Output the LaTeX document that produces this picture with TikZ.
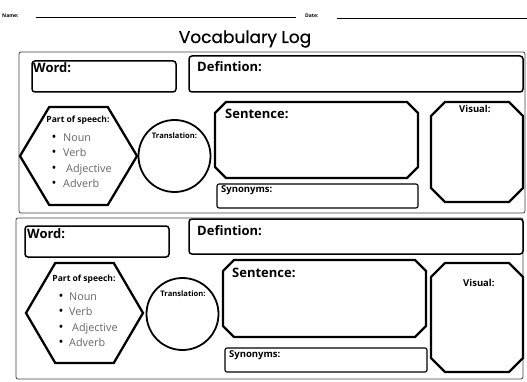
\documentclass[tikz,border=0pt]{standalone}
\usepackage{fontspec}
\setmainfont{Open Sans}
\newfontfamily\titlefont[FakeBold=0.6]{Poppins}
\def\octpath#1#2#3#4#5{(#1+#5,#2) -- (#3-#5,#2) -- (#3,#2+#5) -- (#3,#4-#5) -- (#3-#5,#4) -- (#1+#5,#4) -- (#1,#4-#5) -- (#1,#2+#5) -- cycle}
\def\hexpath#1#2#3#4{(#1-#3,#2) -- (#1-#3/2,#2-#4) -- (#1+#3/2,#2-#4) -- (#1+#3,#2) -- (#1+#3/2,#2+#4) -- (#1-#3/2,#2+#4) -- cycle}
\begin{document}
\begin{tikzpicture}[x=1pt,y=-1pt,
  frame/.style={draw=black!75, line width=0.8pt, rounded corners=2pt},
  boxa/.style={draw, line width=1.5pt, rounded corners=3pt},
  boxb/.style={draw, line width=1.1pt, rounded corners=2pt},
  heavy/.style={draw, line width=2.3pt, line join=miter},
  ring/.style={draw, line width=1.8pt},
  biglab/.style={font=\bfseries\fontsize{13}{15}\selectfont, anchor=base west, inner sep=0},
  midlab/.style={font=\bfseries\fontsize{9.5}{11}\selectfont, anchor=base west, inner sep=0},
  smalllab/.style={font=\bfseries\fontsize{8.5}{10}\selectfont, anchor=base, inner sep=0},
  item/.style={font=\fontsize{10.8}{12}\selectfont, text=black!60, anchor=base west, inner sep=0},
  dot/.style={font=\fontsize{13}{14}\selectfont, anchor=base, inner sep=0},
  tiny/.style={font=\bfseries\fontsize{5}{6}\selectfont, anchor=base west, inner sep=0}]
\useasboundingbox (0,0) rectangle (527,382);
% header
\node[tiny] (name) at (2,18) {Name:};
\node[tiny] (date) at (305,18) {Date:};
\coordinate (n1) at (36,17); \coordinate (n2) at (296,17);
\coordinate (d1) at (337,18); \coordinate (d2) at (527,18);
\draw[line width=0.6pt] (n1) -- (n2);
\draw[line width=0.6pt] (d1) -- (d2);
\node[font=\titlefont\fontsize{17}{20}\selectfont, anchor=base, inner sep=0] (title) at (245,43) {Vocabulary Log};
% ---------- block 1 ----------
\draw[frame] (19,52) rectangle (525,213);
\draw[boxa] (32,61) rectangle (176,92);
\draw[boxa] (189,56) rectangle (523,92);
\draw[heavy] \hexpath{78.5}{156}{58.5}{49};
\draw[ring] (174.5,156) circle (36);
\draw[heavy] \octpath{215}{102}{418}{178}{11};
\draw[boxb] (217,184) rectangle (418,208);
\draw[heavy] \octpath{431}{102}{523}{202}{14};
\node[biglab] (w1) at (33,73) {Word:};
\node[biglab] (def1) at (197,72) {Defintion:};
\node[biglab] (s1) at (225,119) {Sentence:};
\node[smalllab] (p1) at (78,123) {Part of speech:};
\node[smalllab, font=\bfseries\fontsize{7.6}{9}\selectfont] (t1) at (174.5,139) {Translation:};
\node[midlab] (syn1) at (221,193) {Synonyms:};
\node[midlab] (v1) at (459,113) {Visual:};
\node[dot] (b11) at (54,142) {•}; \node[item] (i11) at (63,142) {Noun};
\node[dot] (b12) at (54,157) {•}; \node[item] (i12) at (63,157) {Verb};
\node[dot] (b13) at (54,173) {•}; \node[item] (i13) at (66,173) {Adjective};
\node[dot] (b14) at (54,188) {•}; \node[item] (i14) at (63,188) {Adverb};
% ---------- block 2 ----------
\draw[frame] (16,218) rectangle (523,379);
\draw[boxa] (25,226) rectangle (169,257);
\draw[boxa] (189,219) rectangle (523,254);
\draw[heavy] \hexpath{84.5}{313}{58.5}{50};
\draw[ring] (182.5,314) circle (36);
\draw[heavy] \octpath{223}{260}{426}{337}{11};
\draw[boxb] (225,348) rectangle (427,372);
\draw[heavy] \octpath{431}{263}{523}{372}{14};
\node[biglab] (w2) at (27,238) {Word:};
\node[biglab] (def2) at (197,235) {Defintion:};
\node[biglab] (s2) at (232,277) {Sentence:};
\node[smalllab] (p2) at (84,281) {Part of speech:};
\node[smalllab, font=\bfseries\fontsize{7.6}{9}\selectfont] (t2) at (183,296) {Translation:};
\node[midlab] (syn2) at (229,357) {Synonyms:};
\node[midlab] (v2) at (463,286) {Visual:};
\node[dot] (b21) at (61,300) {•}; \node[item] (i21) at (69,300) {Noun};
\node[dot] (b22) at (61,315) {•}; \node[item] (i22) at (69,315) {Verb};
\node[dot] (b23) at (61,331) {•}; \node[item] (i23) at (72,331) {Adjective};
\node[dot] (b24) at (61,346) {•}; \node[item] (i24) at (69,346) {Adverb};
\end{tikzpicture}
\end{document}
